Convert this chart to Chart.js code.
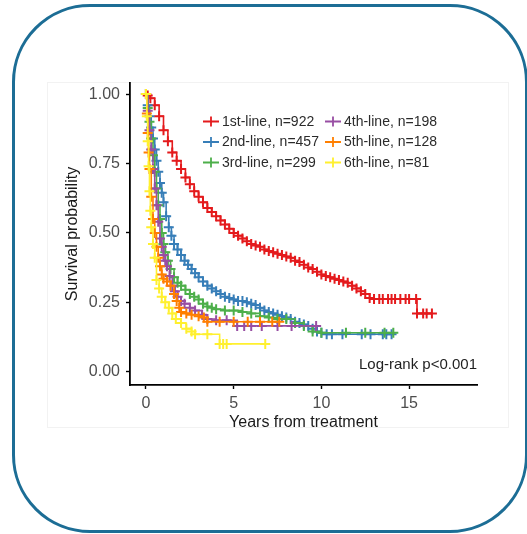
<!DOCTYPE html>
<html>
<head>
<meta charset="utf-8">
<script src="https://cdn.jsdelivr.net/npm/chart.js@4.4.1/dist/chart.umd.min.js"></script>
<style>
    html, body { margin: 0; padding: 0; background: #fff; }
    body { width: 527px; height: 534px; position: relative; overflow: hidden; }
    .frame {
        position: absolute; left: 12px; top: 4px; width: 516px; height: 529px;
        box-sizing: border-box; border: 3px solid #1c6d95; border-radius: 78px;
    }
    .panel {
        position: absolute; left: 47px; top: 82px; width: 462px; height: 346px;
        box-sizing: border-box; border: 1px solid #f2f2f2;
    }
    canvas { position: absolute; left: 0; top: 0; }
</style>
</head>
<body>
<div class="frame"></div>
<div class="panel"></div>
<canvas id="kmChart" width="527" height="534"></canvas>
<script>
// ===== DATA (years, survival probability) =====
const line1 = [[0,1.0],[0.1,0.995],[0.25,0.985],[0.5,0.96],[0.75,0.92],[1.0,0.87],[1.25,0.83],[1.5,0.79],[1.75,0.76],
    [2.0,0.73],[2.25,0.70],[2.5,0.675],[2.75,0.65],[3.0,0.63],[3.25,0.61],[3.5,0.59],[3.75,0.575],[4.0,0.56],
    [4.25,0.545],[4.5,0.53],[4.75,0.515],[5.0,0.50],[5.25,0.49],[5.5,0.48],[5.75,0.47],[6.0,0.46],[6.25,0.455],
    [6.5,0.45],[6.75,0.44],[7.0,0.435],[7.25,0.43],[7.5,0.425],[7.75,0.42],[8.0,0.415],[8.25,0.41],[8.5,0.40],
    [8.75,0.395],[9.0,0.385],[9.25,0.375],[9.5,0.37],[9.75,0.36],[10.0,0.35],[10.25,0.345],[10.5,0.34],
    [10.75,0.335],[11.0,0.33],[11.25,0.325],[11.5,0.32],[11.75,0.31],[12.0,0.30],[12.25,0.29],[12.5,0.28],
    [12.75,0.265],[13.0,0.262],[13.3,0.262],[13.5,0.262],[13.8,0.262],[14.0,0.262],[14.2,0.262],[14.5,0.262],
    [14.8,0.262],[15.0,0.262],[15.4,0.262],[15.45,0.21],[15.8,0.21],[16.0,0.21],[16.3,0.21]];

const line2 = [[0,1.0],[0.1,0.96],[0.2,0.92],[0.3,0.88],[0.4,0.84],[0.5,0.80],[0.6,0.76],[0.7,0.72],[0.8,0.68],
    [0.9,0.645],[1.0,0.61],[1.15,0.56],[1.3,0.52],[1.45,0.49],[1.6,0.46],[1.8,0.44],[2.0,0.42],[2.2,0.40],
    [2.4,0.385],[2.6,0.37],[2.8,0.355],[3.0,0.34],[3.25,0.325],[3.5,0.31],[3.75,0.30],[4.0,0.29],[4.25,0.28],
    [4.5,0.27],[4.75,0.265],[5.0,0.26],[5.25,0.255],[5.5,0.255],[5.75,0.25],[6.0,0.245],[6.25,0.24],[6.5,0.23],
    [6.75,0.22],[7.0,0.215],[7.25,0.21],[7.5,0.205],[7.75,0.20],[8.0,0.195],[8.25,0.19],[8.5,0.18],[8.75,0.175],
    [9.0,0.17],[9.25,0.165],[9.5,0.155],[9.75,0.145],[10.0,0.14],[10.3,0.135],[10.6,0.135],[11.2,0.135],
    [12.3,0.135],[12.8,0.135],[13.5,0.135],[13.7,0.135],[14.0,0.135]];

const line3 = [[0,1.0],[0.1,0.95],[0.2,0.90],[0.3,0.84],[0.4,0.78],[0.5,0.72],[0.6,0.66],[0.7,0.60],[0.8,0.55],
    [0.9,0.50],[1.0,0.46],[1.1,0.43],[1.25,0.40],[1.4,0.37],[1.6,0.34],[1.8,0.32],[2.0,0.31],[2.25,0.295],
    [2.5,0.28],[2.75,0.27],[3.0,0.26],[3.25,0.245],[3.5,0.235],[3.75,0.23],[4.0,0.225],[4.5,0.22],[5.0,0.22],
    [5.5,0.215],[6.0,0.21],[6.5,0.20],[7.0,0.195],[7.5,0.19],[8.0,0.19],[8.5,0.175],[9.0,0.165],[9.5,0.145],
    [10.0,0.14],[11.4,0.14],[12.5,0.14],[13.6,0.14],[14.1,0.14]];

const line4 = [[0,1.0],[0.1,0.94],[0.2,0.87],[0.3,0.80],[0.4,0.73],[0.5,0.66],[0.6,0.60],[0.7,0.54],[0.8,0.48],
    [0.9,0.45],[1.0,0.42],[1.1,0.40],[1.2,0.38],[1.35,0.345],[1.5,0.31],[1.65,0.29],[1.8,0.27],[2.0,0.255],
    [2.2,0.245],[2.5,0.23],[2.8,0.22],[3.2,0.205],[3.5,0.19],[4.0,0.185],[4.6,0.185],[5.2,0.165],[5.6,0.165],
    [6.0,0.165],[6.6,0.165],[7.5,0.165],[8.3,0.165],[9.7,0.165]];

const line5 = [[0,1.0],[0.05,0.93],[0.1,0.86],[0.15,0.79],[0.2,0.73],[0.3,0.63],[0.4,0.55],[0.5,0.50],[0.6,0.45],
    [0.7,0.41],[0.8,0.38],[0.9,0.35],[1.0,0.335],[1.2,0.325],[1.4,0.31],[1.6,0.28],[1.75,0.255],[1.9,0.23],
    [2.0,0.215],[2.3,0.21],[2.6,0.205],[3.0,0.20],[3.3,0.195],[3.5,0.18],[4.2,0.18],[5.0,0.18],[5.8,0.18],
    [6.5,0.18],[7.2,0.18],[7.6,0.18]];

const line6 = [[0,1.0],[0.05,0.92],[0.1,0.83],[0.15,0.74],[0.2,0.65],[0.25,0.58],[0.3,0.52],[0.4,0.46],[0.5,0.41],
    [0.6,0.33],[0.75,0.30],[0.9,0.27],[1.1,0.25],[1.3,0.23],[1.5,0.21],[1.7,0.19],[2.0,0.175],[2.3,0.155],
    [2.6,0.145],[2.8,0.135],[3.5,0.135],[4.2,0.10],[4.4,0.10],[4.6,0.10],[6.8,0.10]];

const seriesLabels = ['1st-line, n=922', '2nd-line, n=457', '3rd-line, n=299',
                      '4th-line, n=198', '5th-line, n=128', '6th-line, n=81'];
const seriesData = [line1, line2, line3, line4, line5, line6];
const seriesColors = ['#e41a1c', '#377eb8', '#4daf4a', '#984ea3', '#ff7f00', '#fff02e'];

const xTicks = [0, 5, 10, 15];
const yTicks = [0, 0.25, 0.5, 0.75, 1.0];
const pValueText = 'Log-rank p<0.001';

const FONT = '"Liberation Sans", Arial, Helvetica, sans-serif';

// ===== LEGEND + ANNOTATION (drawn inside the panel) =====
const insideLegend = {
    id: 'insideLegend',
    afterDraw(chart) {
        const ctx = chart.ctx;
        const area = chart.chartArea;
        ctx.save();
        ctx.font = '14px ' + FONT;
        ctx.textBaseline = 'middle';
        ctx.textAlign = 'left';
        seriesLabels.forEach((label, i) => {
            const col = Math.floor(i / 3);
            const row = i % 3;
            const cx = area.left + 81 + col * 122;
            const cy = area.top + 38.5 + row * 20.5;
            ctx.strokeStyle = seriesColors[i];
            ctx.lineWidth = 1.8;
            ctx.beginPath();
            ctx.moveTo(cx - 8, cy); ctx.lineTo(cx + 8, cy);
            ctx.moveTo(cx, cy - 5); ctx.lineTo(cx, cy + 5);
            ctx.stroke();
            ctx.fillStyle = '#2b2b2b';
            ctx.fillText(label, cx + 11, cy + 0.5);
        });
        ctx.font = '15px ' + FONT;
        ctx.textAlign = 'right';
        ctx.fillStyle = '#1f1f1f';
        ctx.fillText(pValueText, area.right, area.bottom - 20.5);
        ctx.restore();
    }
};

// ===== CHART =====
const datasets = seriesData.map((pts, i) => ({
    label: seriesLabels[i],
    data: pts.map(p => ({ x: p[0], y: p[1] })),
    borderColor: seriesColors[i],
    backgroundColor: seriesColors[i],
    borderWidth: 1.6,
    stepped: 'before',
    fill: false,
    pointStyle: 'cross',
    pointRadius: 5,
    pointBorderWidth: 2,
    pointBorderColor: seriesColors[i],
    order: 6 - i
}));

new Chart(document.getElementById('kmChart'), {
    type: 'line',
    data: { datasets: datasets },
    options: {
        responsive: false,
        animation: false,
        events: [],
        layout: { padding: { left: 63, right: 50, top: 83, bottom: 102 } },
        plugins: {
            legend: { display: false },
            tooltip: { enabled: false }
        },
        scales: {
            x: {
                type: 'linear',
                min: -0.91,
                max: 18.87,
                afterBuildTicks: s => { s.ticks = xTicks.map(v => ({ value: v })); },
                afterFit: s => { s.height = 47; },
                grid: { drawOnChartArea: false, drawTicks: true, tickLength: 4, tickColor: '#000', tickWidth: 1.4 },
                border: { display: true, color: '#000', width: 1.8 },
                ticks: {
                    color: '#4d4d4d', padding: 5, maxRotation: 0,
                    font: { size: 16, family: FONT },
                    callback: v => String(v)
                },
                title: {
                    display: true, text: 'Years from treatment', color: '#1a1a1a',
                    padding: 0, font: { size: 16, family: FONT }
                }
            },
            y: {
                type: 'linear',
                min: -0.048,
                max: 1.04,
                afterBuildTicks: s => { s.ticks = yTicks.map(v => ({ value: v })); },
                afterFit: s => { s.width = 67; },
                grid: { drawOnChartArea: false, drawTicks: true, tickLength: 4, tickColor: '#000', tickWidth: 1.4 },
                border: { display: true, color: '#000', width: 1.8 },
                ticks: {
                    color: '#4d4d4d', padding: 6,
                    font: { size: 16, family: FONT },
                    callback: v => Number(v).toFixed(2)
                },
                title: {
                    display: true, text: 'Survival probability', color: '#1a1a1a',
                    padding: 0, font: { size: 16, family: FONT }
                }
            }
        }
    },
    plugins: [insideLegend]
});
</script>
</body>
</html>
